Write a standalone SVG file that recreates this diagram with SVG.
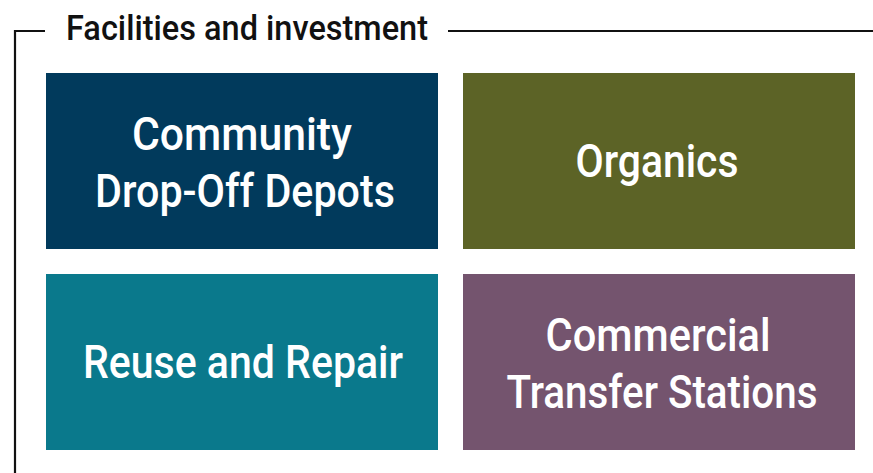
<svg xmlns="http://www.w3.org/2000/svg" width="873" height="473" viewBox="0 0 873 473">
  <style>
    .frame { fill: none; stroke: #111111; stroke-width: 2.2; }
    .title { font-family: Roboto, "Liberation Sans", sans-serif; font-size: 35px; font-weight: 500; fill: #111111; }
    .label { font-family: Roboto, "Liberation Sans", sans-serif; font-size: 46px; font-weight: 500; fill: #ffffff; text-anchor: middle; }
  </style>
  <rect width="873" height="473" fill="#ffffff"/>
  <g id="frame">
    <path class="frame" d="M15 473 V31 H45"/>
    <path class="frame" d="M448 31 H873"/>
    <text class="title" x="66" y="40" textLength="362" lengthAdjust="spacingAndGlyphs">Facilities and investment</text>
  </g>
  <g id="node-community">
    <rect x="46" y="73" width="392" height="176" fill="#013A5C"/>
    <text class="label" x="242" y="150" textLength="220" lengthAdjust="spacingAndGlyphs">Community</text>
    <text class="label" x="245" y="207" textLength="300" lengthAdjust="spacingAndGlyphs">Drop-Off Depots</text>
  </g>
  <g id="node-organics">
    <rect x="463" y="73" width="392" height="176" fill="#5C6326"/>
    <text class="label" x="657" y="177" textLength="163" lengthAdjust="spacingAndGlyphs">Organics</text>
  </g>
  <g id="node-reuse">
    <rect x="46" y="274" width="392" height="176" fill="#0A798C"/>
    <text class="label" x="243" y="378" textLength="320" lengthAdjust="spacingAndGlyphs">Reuse and Repair</text>
  </g>
  <g id="node-commercial">
    <rect x="463" y="274" width="392" height="176" fill="#74546E"/>
    <text class="label" x="658" y="351" textLength="225" lengthAdjust="spacingAndGlyphs">Commercial</text>
    <text class="label" x="662" y="408" textLength="311" lengthAdjust="spacingAndGlyphs">Transfer Stations</text>
  </g>
  <g id="connectors"></g>
</svg>
